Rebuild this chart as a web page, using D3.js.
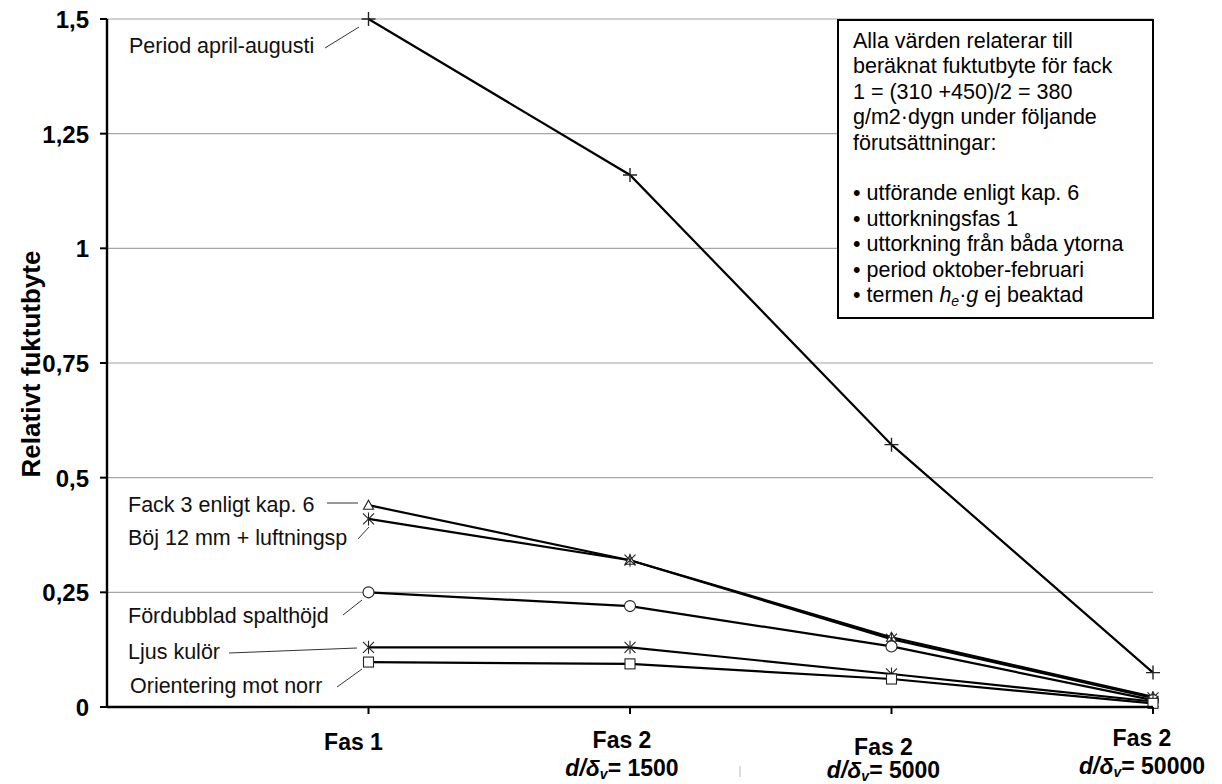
<!DOCTYPE html>
<html><head><meta charset="utf-8">
<script src="https://cdn.jsdelivr.net/npm/d3@7"></script>
<style>body{margin:0;background:#fff}svg{display:block}text{font-family:"Liberation Sans",Arial,sans-serif}</style>
</head><body>
<svg id="c" width="1222" height="784"></svg>
<script>
const categories = ["Fas 1", "Fas 2|1500", "Fas 2|5000", "Fas 2|50000"];
const seriesNames = ["Period april-augusti", "Fack 3 enligt kap. 6", "Böj 12 mm + luftningsp", "Fördubblad spalthöjd", "Ljus kulör", "Orientering mot norr"];
const seriesMarkers = ["plus", "triangle", "asterisk", "circle", "asterisk", "square"];
const periodValues = [1.5, 1.16, 0.572, 0.075];
const fack3Values = [0.44, 0.32, 0.152, 0.022];
const bojValues = [0.41, 0.32, 0.148, 0.02];
const fordubbladValues = [0.25, 0.22, 0.132, 0.015];
const ljusValues = [0.13, 0.13, 0.072, 0.012];
const orienteringValues = [0.098, 0.094, 0.061, 0.008];
const yTicks = [0, 0.25, 0.5, 0.75, 1, 1.25, 1.5];
const yTickLabels = ["0", "0,25", "0,5", "0,75", "1", "1,25", "1,5"];
const noteLines = ["Alla värden relaterar till", "beräknat fuktutbyte för fack", "1 = (310 +450)/2 = 380", "g/m2·dygn under följande", "förutsättningar:", "", "• utförande enligt kap. 6", "• uttorkningsfas 1", "• uttorkning från båda ytorna", "• period oktober-februari", "• termen |h|e|·|g| ej beaktad"];

const allSeries = [periodValues, fack3Values, bojValues, fordubbladValues, ljusValues, orienteringValues];
const svg = d3.select("#c");
const x = d3.scaleLinear().domain([0, 4]).range([107, 1153]);
const y = d3.scaleLinear().domain([0, 1.5]).range([707, 19]);

// gridlines
svg.append("g").selectAll("line").data(yTicks.filter(d => d > 0)).join("line")
  .attr("x1", x(0)).attr("x2", x(4)).attr("y1", d => y(d)).attr("y2", d => y(d))
  .attr("stroke", "#a6a6a6").attr("stroke-width", 1.2);

// lines
const line = d3.line().x((d, i) => x(i + 1)).y(d => y(d));
svg.append("g").selectAll("path").data(allSeries).join("path")
  .attr("d", d => line(d)).attr("fill", "none").attr("stroke", "#000").attr("stroke-width", 2.2);

// markers
function marker(g, type, cx, cy) {
  const s = 5.5;
  const st = {stroke: "#222", "stroke-width": 1.1, fill: "none"};
  const add = (tag) => { const e = g.append(tag); Object.entries(st).forEach(([k, v]) => e.attr(k, v)); return e; };
  if (type === "plus") {
    add("path").attr("d", `M${cx - 7},${cy}H${cx + 7}M${cx},${cy - 7}V${cy + 7}`).attr("stroke-width", 1.4);
  } else if (type === "triangle") {
    add("path").attr("d", `M${cx},${cy - 5}L${cx + 5},${cy + 4}L${cx - 5},${cy + 4}Z`).attr("fill", "#fff");
  } else if (type === "asterisk") {
    add("path").attr("d", `M${cx - s},${cy - s}L${cx + s},${cy + s}M${cx - s},${cy + s}L${cx + s},${cy - s}M${cx},${cy - s - 1}V${cy + s + 1}`);
  } else if (type === "circle") {
    add("circle").attr("cx", cx).attr("cy", cy).attr("r", 5.5).attr("fill", "#fff");
  } else if (type === "square") {
    add("rect").attr("x", cx - 5).attr("y", cy - 5).attr("width", 10).attr("height", 10).attr("fill", "#fff");
  }
}
const mg = svg.append("g");
allSeries.forEach((vals, si) => vals.forEach((v, i) => marker(mg, seriesMarkers[si], x(i + 1), y(v))));

// axes
svg.append("line").attr("x1", x(0)).attr("x2", x(4)).attr("y1", y(0)).attr("y2", y(0)).attr("stroke", "#000").attr("stroke-width", 2.4);
svg.append("line").attr("x1", x(0)).attr("x2", x(0)).attr("y1", y(0) + 1).attr("y2", y(1.5)).attr("stroke", "#000").attr("stroke-width", 2.4);
svg.append("g").selectAll("line").data(yTicks).join("line")
  .attr("x1", x(0) - 7).attr("x2", x(0)).attr("y1", d => y(d)).attr("y2", d => y(d)).attr("stroke", "#000").attr("stroke-width", 2);
svg.append("g").selectAll("line").data([1, 2, 3, 4]).join("line")
  .attr("x1", d => x(d)).attr("x2", d => x(d)).attr("y1", y(0)).attr("y2", y(0) + 7).attr("stroke", "#000").attr("stroke-width", 2);

svg.append("g").selectAll("text").data(yTicks).join("text")
  .attr("x", 89).attr("y", d => y(d) + 9).attr("text-anchor", "end")
  .attr("font-size", 24).attr("font-weight", "bold").text((d, i) => yTickLabels[i]);

svg.append("text").attr("transform", "translate(40,364) rotate(-90)").attr("text-anchor", "middle")
  .attr("font-size", 26).attr("font-weight", "bold").text("Relativt fuktutbyte");

// x labels
const xLabDx = [-15, -8, -8, -11];
const xLabBase = [750, 748, 755, 746];
const xLab2Base = [0, 776, 778, 774];
categories.forEach((c, i) => {
  const parts = c.split("|");
  const cx = x(i + 1) + xLabDx[i];
  svg.append("text").attr("x", cx).attr("y", xLabBase[i]).attr("text-anchor", "middle")
    .attr("font-size", 23).attr("font-weight", "bold").text(parts[0]);
  if (parts[1]) {
    const t2 = svg.append("text").attr("x", cx).attr("y", xLab2Base[i]).attr("text-anchor", "middle")
      .attr("font-size", 23).attr("font-weight", "bold");
    t2.append("tspan").attr("font-style", "italic").text("d/δ");
    t2.append("tspan").attr("font-style", "italic").attr("font-size", 14).attr("dy", 3).text("v");
    t2.append("tspan").attr("dy", -3).text("= " + parts[1]);
  }
});
svg.append("line").attr("x1", 740).attr("x2", 740).attr("y1", 766).attr("y2", 777).attr("stroke", "#bbb").attr("stroke-width", 1);

// series labels with leaders
const labelPos = [[129, 53], [128, 512], [128, 545], [128, 623], [128, 659], [130, 693]];
const leaders = [[[325, 48], [359, 27]], [[327, 503], [358, 503]], [[358, 539], [369, 527]], [[343, 615], [362, 600]], [[229, 653], [357, 648]], [[337, 687], [362, 669]]];
seriesNames.forEach((n, i) => {
  svg.append("text").attr("x", labelPos[i][0]).attr("y", labelPos[i][1]).attr("font-size", 21.5).attr("fill", "#111").text(n);
  svg.append("line").attr("x1", leaders[i][0][0]).attr("y1", leaders[i][0][1]).attr("x2", leaders[i][1][0]).attr("y2", leaders[i][1][1])
    .attr("stroke", "#333").attr("stroke-width", 1);
});

// note box
svg.append("rect").attr("x", 838).attr("y", 20).attr("width", 315).attr("height", 298)
  .attr("fill", "#fff").attr("stroke", "#000").attr("stroke-width", 2);
noteLines.forEach((l, i) => {
  const t = svg.append("text").attr("x", 853).attr("y", 48 + i * 25.4).attr("font-size", 21.5).attr("fill", "#000");
  if (l.includes("|")) {
    const p = l.split("|");
    t.append("tspan").text(p[0]);
    t.append("tspan").attr("font-style", "italic").text(p[1]);
    t.append("tspan").attr("font-style", "italic").attr("font-size", 14).attr("dy", 4).text(p[2]);
    t.append("tspan").attr("dy", -4).text(p[3]);
    t.append("tspan").attr("font-style", "italic").text(p[4]);
    t.append("tspan").text(p[5]);
  } else t.text(l);
});
</script>
</body></html>
